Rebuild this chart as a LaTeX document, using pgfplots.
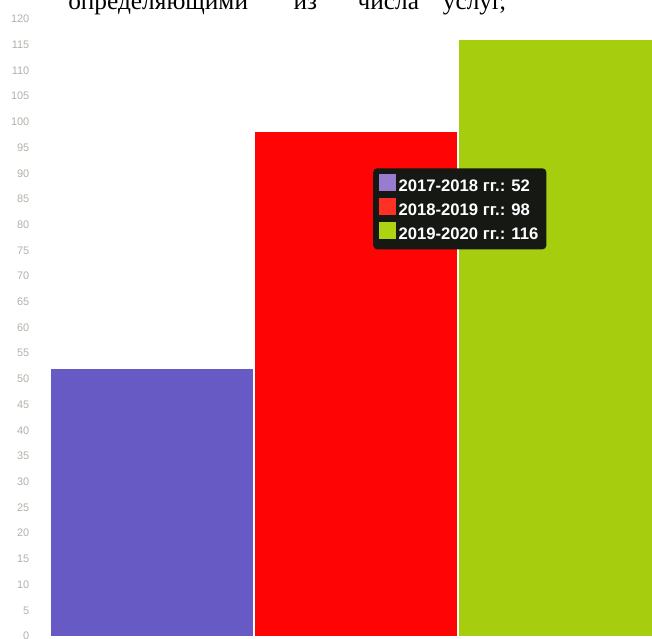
\documentclass[border=0pt]{standalone}
\usepackage{fontspec}
\setmainfont{Liberation Serif}
\setsansfont{Liberation Sans}
\usepackage{pgfplots}
\pgfplotsset{compat=1.18}

\definecolor{barblue}{RGB}{104,90,196}
\definecolor{barred}{RGB}{254,4,4}
\definecolor{bargreen}{RGB}{166,206,14}
\definecolor{legpurple}{RGB}{152,124,208}
\definecolor{legred}{RGB}{255,48,36}
\definecolor{leggreen}{RGB}{172,212,18}
\definecolor{legbg}{RGB}{22,24,20}
\definecolor{tickgray}{RGB}{178,176,168}

\begin{document}
\begin{tikzpicture}
% 1 px of the reference = 0.75pt
\useasboundingbox (0pt,0pt) rectangle (489pt,478.5pt);

% cut-off line of body text above the chart
\begin{scope}[every node/.style={anchor=base west, inner sep=0pt,
    font=\fontsize{19}{20}\selectfont}]
\node at (51pt,471.5pt) {определяющими};
\node at (220pt,471.5pt) {из};
\node at (268pt,471.5pt) {числа};
\node at (332pt,471.5pt) {услуг,};
\end{scope}

\begin{axis}[
    at={(37.5pt,1.5pt)}, anchor=south west,
    scale only axis,
    width=451.5pt, height=462.75pt,
    xmin=-0.5, xmax=2.451,
    ymin=0, ymax=120,
    ytick={0,5,...,120},
    xtick=\empty,
    axis line style={draw=none},
    tick style={draw=none},
    /pgf/number format/assume math mode=true,
    yticklabel style={font=\sffamily\fontsize{8.2}{9}\selectfont,
        text=tickgray, xshift=-12pt},
    legend cell align=left,
    legend style={at={(0.5365,0.7585)}, anchor=north west,
        fill=legbg, draw=none, rounded corners=3pt, text=white,
        font=\sffamily\bfseries\fontsize{12.5}{14}\selectfont,
        inner sep=4pt, row sep=1.5pt,
        /tikz/every even column/.append style={column sep=1pt}},
]

\addplot[ybar, bar width=0.99, fill=barblue, draw=none,
    legend image code/.code={\fill[legpurple, sharp corners] (0pt,-3.5pt) rectangle (13pt,9.5pt);}]
    coordinates {(0,52)};
\addlegendentry{2017-2018 гг.: 52}

\addplot[ybar, bar width=0.99, fill=barred, draw=none,
    legend image code/.code={\fill[legred, sharp corners] (0pt,-3.5pt) rectangle (13pt,9.5pt);}]
    coordinates {(1,98)};
\addlegendentry{2018-2019 гг.: 98}

\addplot[ybar, bar width=0.99, fill=bargreen, draw=none,
    legend image code/.code={\fill[leggreen, sharp corners] (0pt,-3.5pt) rectangle (13pt,9.5pt);}]
    coordinates {(2,116)};
\addlegendentry{2019-2020 гг.: 116}

\end{axis}
\end{tikzpicture}
\end{document}
